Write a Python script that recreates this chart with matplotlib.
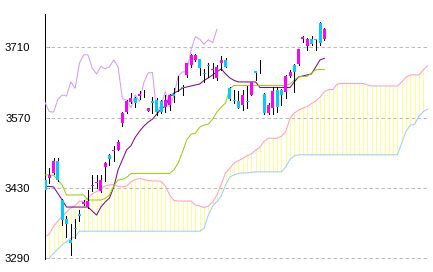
import matplotlib
matplotlib.use("Agg")
import matplotlib.pyplot as plt
import numpy as np

# candle data (index 0 sits on the y axis)
opens = [3445, 3450, 3459, 3484, 3406, 3369, 3326, 3351, 3378, 3398,
         3392, 3433, 3440, 3423, 3471, 3496, 3503, 3506, 3559, 3582,
         3602, 3610, 3613, 3618, 3584, 3603, 3606, 3604, 3592, 3595,
         3617, 3640, 3630, 3655, 3675, 3685, 3686, 3659, 3674, 3664,
         3648, 3678, 3685, 3628, 3606, 3603, 3596, 3604, 3615, 3662,
         3661, 3616, 3579, 3589, 3624, 3624, 3621, 3653, 3675, 3677,
         3726, 3713, 3727, 3726, 3758, 3726]
highs = [3446, 3469, 3490, 3489, 3408, 3375, 3358, 3368, 3386, 3406,
         3425, 3456, 3456, 3456, 3481, 3497, 3513, 3526, 3581, 3606,
         3618, 3612, 3622, 3625, 3590, 3612, 3610, 3606, 3615, 3616,
         3628, 3652, 3635, 3679, 3697, 3697, 3687, 3667, 3678, 3678,
         3675, 3692, 3688, 3630, 3625, 3622, 3625, 3632, 3641, 3662,
         3685, 3618, 3600, 3630, 3630, 3626, 3655, 3664, 3677, 3707,
         3732, 3728, 3733, 3727, 3760, 3749]
lows = [3422, 3440, 3457, 3444, 3357, 3332, 3296, 3331, 3364, 3396,
        3390, 3423, 3430, 3421, 3443, 3476, 3484, 3505, 3553, 3579,
        3600, 3592, 3608, 3611, 3583, 3579, 3576, 3579, 3582, 3585,
        3602, 3622, 3615, 3651, 3671, 3683, 3655, 3640, 3651, 3648,
        3645, 3665, 3670, 3606, 3599, 3589, 3585, 3590, 3614, 3645,
        3658, 3577, 3577, 3577, 3582, 3595, 3610, 3651, 3620, 3675,
        3720, 3704, 3714, 3704, 3714, 3725]
closes = [3425, 3455, 3484, 3446, 3366, 3358, 3321, 3349, 3374, 3403,
          3405, 3436, 3441, 3445, 3480, 3487, 3506, 3521, 3580, 3604,
          3610, 3600, 3616, 3619, 3589, 3600, 3582, 3581, 3606, 3615,
          3613, 3641, 3628, 3678, 3695, 3695, 3668, 3657, 3672, 3667,
          3671, 3685, 3671, 3608, 3604, 3590, 3615, 3602, 3640, 3659,
          3660, 3579, 3595, 3622, 3592, 3614, 3653, 3661, 3661, 3706,
          3731, 3726, 3716, 3725, 3719, 3746]

# conversion line / base line
tenkan = [3433, 3433, 3432, 3419, 3406, 3392, 3392, 3392, 3392, 3392,
          3392, 3384, 3376, 3392, 3402, 3410, 3432, 3466, 3486, 3506,
          3514, 3531, 3543, 3553, 3561, 3567, 3577, 3587, 3593, 3611,
          3619, 3623, 3629, 3631, 3633, 3635, 3637, 3644, 3649, 3655,
          3661, 3667, 3657, 3649, 3644, 3641, 3641, 3641, 3641, 3641,
          3630, 3630, 3630, 3630, 3630, 3630, 3630, 3630, 3641, 3651,
          3653, 3655, 3657, 3671, 3685, 3688]
kijun = [3456, 3456, 3455, 3446, 3436, 3416, 3416, 3416, 3416, 3416,
         3406, 3406, 3406, 3406, 3409, 3416, 3434, 3446, 3447, 3451,
         3459, 3459, 3459, 3459, 3459, 3459, 3459, 3459, 3459, 3459,
         3466, 3480, 3502, 3526, 3537, 3539, 3551, 3555, 3557, 3567,
         3581, 3591, 3599, 3628, 3634, 3634, 3634, 3634, 3634, 3634,
         3634, 3634, 3634, 3634, 3634, 3634, 3634, 3637, 3645, 3651,
         3652, 3652, 3659, 3665, 3666, 3666]

# leading spans (run 25 bars past the last candle)
span_a = [3333, 3338, 3354, 3364, 3374, 3382, 3390, 3395, 3404, 3403,
          3410, 3418, 3423, 3429, 3434, 3436, 3437, 3433, 3432, 3434,
          3442, 3447, 3449, 3447, 3445, 3444, 3444, 3443, 3434, 3416,
          3405, 3404, 3404, 3404, 3404, 3396, 3394, 3391, 3394, 3402,
          3416, 3438, 3460, 3469, 3480, 3484, 3489, 3494, 3498, 3505,
          3511, 3523, 3529, 3529, 3529, 3533, 3542, 3569, 3579, 3585,
          3589, 3592, 3598, 3603, 3611, 3622, 3626, 3626, 3637, 3638,
          3638, 3638, 3638, 3638, 3638, 3635, 3633, 3633, 3633, 3633,
          3633, 3633, 3633, 3641, 3651, 3655, 3655, 3655, 3665, 3673]
span_b = [3285, 3290, 3300, 3308, 3317, 3323, 3330, 3332, 3344, 3344,
          3344, 3344, 3344, 3344, 3344, 3344, 3344, 3344, 3344, 3344,
          3344, 3344, 3344, 3344, 3344, 3344, 3344, 3344, 3344, 3344,
          3344, 3344, 3344, 3344, 3344, 3344, 3344, 3350, 3376, 3394,
          3403, 3414, 3436, 3452, 3456, 3459, 3460, 3460, 3461, 3462,
          3462, 3462, 3462, 3462, 3462, 3462, 3472, 3487, 3494, 3496,
          3496, 3496, 3496, 3496, 3496, 3496, 3496, 3496, 3496, 3496,
          3496, 3496, 3496, 3496, 3496, 3496, 3496, 3496, 3496, 3496,
          3496, 3496, 3496, 3520, 3543, 3555, 3557, 3573, 3582, 3587]

lag = 25
y_ticks = [3290, 3430, 3570, 3710]

UP = "#ff00ff"
DOWN = "#00ccff"

fig = plt.figure(figsize=(4.33, 2.72), dpi=100)
ax = fig.add_axes([45 / 433, 13 / 272, 383 / 433, 245 / 272])

n = len(closes)
x = np.arange(n)
x_span = np.arange(len(span_a))
px = 0.72

# cloud: thin vertical strokes between the spans
ax.vlines(x_span, span_b, span_a, color="#ffff88", lw=px, zorder=1,
          antialiased=False)
ax.plot(x_span, span_a, color="#ff99cc", lw=px, zorder=2)
ax.plot(x_span, span_b, color="#99ccff", lw=px, zorder=2)

for t in y_ticks:
    ax.axhline(t, color="#bbbbbb", lw=px, ls=(0, (3.5, 2.5)), zorder=2.5)

# lagging span = close shifted back
ax.plot(x[: n - lag], closes[lag:], color="#cc99ff", lw=px, zorder=3)
ax.plot(x, tenkan, color="#800080", lw=px, zorder=3)
ax.plot(x, kijun, color="#99cc00", lw=px, zorder=3)

o = np.array(opens)
c = np.array(closes)
ax.vlines(x, lows, highs, color="black", lw=px, zorder=4, antialiased=False)
colors = [UP if cc >= oo else DOWN for oo, cc in zip(o, c)]
body = np.maximum(np.abs(c - o), 1.5)
ax.bar(x, body, bottom=np.minimum(o, c), width=0.7, color=colors,
       linewidth=0, zorder=5)

ax.set_xlim(0, 89.1)
ax.set_ylim(3288.6, 3776.2)
ax.set_yticks(y_ticks)
ax.set_yticklabels([str(t) for t in y_ticks], fontsize=8.2,
                   family="Liberation Sans")
ax.set_xticks([])
ax.tick_params(axis="y", direction="in", length=3, width=px, pad=10.5)
for side in ("top", "right", "bottom"):
    ax.spines[side].set_visible(False)
ax.spines["left"].set_linewidth(px)

fig.savefig("out.png", dpi=100)
